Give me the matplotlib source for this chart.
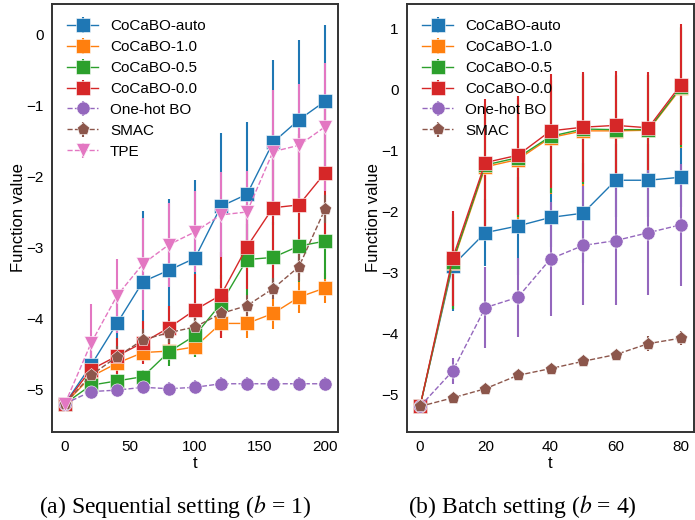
import numpy as np
import matplotlib
matplotlib.use("Agg")
import matplotlib.pyplot as plt

# ---- data: sequential setting (b=1)
t_seq = [0, 20, 40, 60, 80, 100, 120, 140, 160, 180, 200]
seq_auto = [-5.2, -4.66, -4.07, -3.48, -3.32, -3.15, -2.42, -2.25, -1.52, -1.20, -0.94]
seq_auto_err = [0.05, 0.2, 0.5, 1.0, 1.0, 1.1, 1.03, 1.02, 1.16, 1.13, 1.08]
seq_10 = [-5.2, -4.82, -4.63, -4.48, -4.46, -4.40, -4.07, -4.07, -3.93, -3.70, -3.57]
seq_10_err = [0.05, 0.15, 0.15, 0.15, 0.15, 0.15, 0.2, 0.2, 0.22, 0.22, 0.21]
seq_05 = [-5.2, -4.94, -4.88, -4.82, -4.47, -4.24, -3.79, -3.17, -3.14, -2.98, -2.91]
seq_05_err = [0.05, 0.1, 0.1, 0.1, 0.2, 0.3, 0.4, 0.5, 0.5, 0.5, 0.53]
seq_00 = [-5.2, -4.72, -4.53, -4.34, -4.13, -3.88, -3.67, -2.99, -2.44, -2.40, -1.95]
seq_00_err = [0.05, 0.2, 0.25, 0.3, 0.3, 0.5, 0.6, 0.6, 1.1, 1.0, 1.0]
seq_onehot = [-5.2, -5.03, -5.01, -4.97, -4.99, -4.97, -4.92, -4.92, -4.92, -4.92, -4.92]
seq_onehot_err = [0.05, 0.1, 0.1, 0.1, 0.1, 0.1, 0.1, 0.1, 0.1, 0.1, 0.1]
seq_smac = [-5.2, -4.80, -4.54, -4.30, -4.20, -4.12, -3.93, -3.82, -3.58, -3.27, -2.46]
seq_smac_err = [0.05, 0.15, 0.15, 0.15, 0.15, 0.15, 0.15, 0.15, 0.15, 0.2, 0.2]
seq_tpe = [-5.2, -4.35, -3.68, -3.23, -2.96, -2.78, -2.54, -2.50, -1.65, -1.56, -1.30]
seq_tpe_err = [0.05, 0.56, 0.52, 0.65, 0.59, 0.57, 0.6, 0.58, 0.87, 0.86, 0.9]

# ---- data: batch setting (b=4)
t_bat = [0, 10, 20, 30, 40, 50, 60, 70, 80]
bat_auto = [-5.2, -2.89, -2.35, -2.24, -2.10, -2.03, -1.49, -1.49, -1.44]
bat_auto_err = [0.05, 0.75, 0.55, 0.8, 0.48, 0.82, 0.6, 0.6, 0.49]
bat_10 = [-5.2, -2.85, -1.27, -1.15, -0.79, -0.68, -0.68, -0.67, 0.02]
bat_10_err = [0.05, 0.75, 1.0, 0.98, 0.93, 0.9, 0.9, 0.9, 0.98]
bat_05 = [-5.2, -2.83, -1.24, -1.12, -0.77, -0.65, -0.66, -0.66, 0.04]
bat_05_err = [0.05, 0.78, 1.0, 0.98, 0.93, 0.9, 0.9, 0.9, 0.98]
bat_00 = [-5.2, -2.77, -1.20, -1.08, -0.68, -0.62, -0.59, -0.63, 0.08]
bat_00_err = [0.05, 0.78, 1.05, 0.98, 0.94, 0.9, 0.9, 0.91, 0.99]
bat_onehot = [-5.2, -4.62, -3.58, -3.41, -2.78, -2.56, -2.48, -2.35, -2.22]
bat_onehot_err = [0.05, 0.21, 0.66, 0.65, 0.93, 0.98, 1.05, 1.02, 1.0]
bat_smac = [-5.2, -5.06, -4.91, -4.69, -4.58, -4.46, -4.35, -4.17, -4.08]
bat_smac_err = [0.05, 0.05, 0.08, 0.08, 0.08, 0.08, 0.08, 0.12, 0.12]

names = ["CoCaBO-auto", "CoCaBO-1.0", "CoCaBO-0.5", "CoCaBO-0.0",
         "One-hot BO", "SMAC", "TPE"]
colors = ["#1f77b4", "#ff7f0e", "#2ca02c", "#d62728", "#9467bd", "#8c564b", "#e377c2"]
markers = ["s", "s", "s", "s", "o", "p", "v"]
styles = ["-", "-", "-", "-", "--", "--", "--"]

plt.rcParams['font.family'] = ['Liberation Sans', 'DejaVu Sans']
plt.rcParams['mathtext.fontset'] = 'stix'

fig = plt.figure(figsize=(6.95, 5.2), dpi=100)
ax1 = fig.add_axes([0.0748, 0.1692, 0.4115, 0.823])
ax2 = fig.add_axes([0.5856, 0.1692, 0.413, 0.823])

def draw(ax, t, series, errs, n):
    for i in range(n):
        ax.errorbar(t, series[i], yerr=errs[i], color=colors[i], marker=markers[i],
                    ls=styles[i], lw=1.0, elinewidth=1.5, capsize=0,
                    markersize=9.5, mec='white', mew=0.4, label=names[i])
    ax.legend(loc='upper left', frameon=False, fontsize=11, handlelength=2.0,
              borderaxespad=0.6, labelspacing=0.45)
    ax.set_xlabel("t", fontsize=12, labelpad=1)
    ax.set_ylabel("Function value", fontsize=12, labelpad=0)
    ax.tick_params(length=0, labelsize=11, pad=6)
    for s in ax.spines.values():
        s.set_color('#333333')
        s.set_linewidth(1.4)

draw(ax1, t_seq,
     [seq_auto, seq_10, seq_05, seq_00, seq_onehot, seq_smac, seq_tpe],
     [seq_auto_err, seq_10_err, seq_05_err, seq_00_err, seq_onehot_err, seq_smac_err, seq_tpe_err], 7)
ax1.set_xlim(-10, 210)
ax1.set_ylim(-5.6, 0.43)
ax1.set_xticks([0, 50, 100, 150, 200])
ax1.set_yticks([-5, -4, -3, -2, -1, 0])

draw(ax2, t_bat,
     [bat_auto, bat_10, bat_05, bat_00, bat_onehot, bat_smac],
     [bat_auto_err, bat_10_err, bat_05_err, bat_00_err, bat_onehot_err, bat_smac_err], 6)
ax2.set_xlim(-4, 84)
ax2.set_ylim(-5.62, 1.4)
ax2.set_xticks([0, 20, 40, 60, 80])
ax2.set_yticks([-5, -4, -3, -2, -1, 0, 1])

fig.text(0.252, 0.025, r"(a) Sequential setting ($b$ = 1)", ha='center', va='center',
         fontsize=17, family='Liberation Serif')
fig.text(0.751, 0.025, r"(b) Batch setting ($b$ = 4)", ha='center', va='center',
         fontsize=17, family='Liberation Serif')

fig.savefig("out.png", dpi=100)
